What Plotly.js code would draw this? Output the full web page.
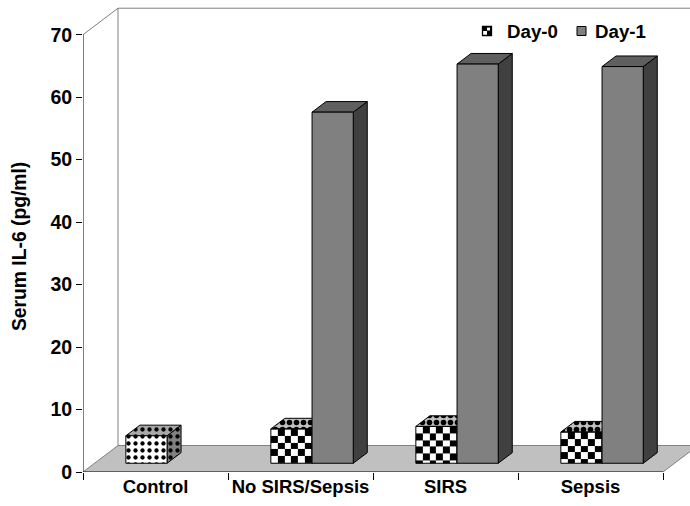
<!DOCTYPE html>
<html><head><meta charset="utf-8">
<script src="https://cdn.plot.ly/plotly-3.0.1.min.js"></script>
<style>html,body{margin:0;padding:0;background:#fff}#chart{width:690px;height:506px}</style>
</head><body><div id="chart"></div>
<script>
// ---- data ----
const categories = ['Control', 'No SIRS/Sepsis', 'SIRS', 'Sepsis'];
const seriesNames = ['Day-0', 'Day-1'];
const day0 = [4.4, 5.5, 5.9, 5.0];
const day1 = [null, 56.2, 63.9, 63.5];
const yTickVals = [0, 10, 20, 30, 40, 50, 60, 70];
const yTitle = 'Serum IL-6 (pg/ml)';
const dottedCategory = 'Control';

// ---- geometry / style ----
const W = 690, H = 506, ML = 83, MR = 0, MT = 6, MB = 34;
const PX_X = 145, PX_Y = 6.247;
const plotW = W - ML - MR, plotH = H - MT - MB;
const xr = [-0.5, -0.5 + plotW / PX_X];
const yr = [0, plotH / PX_Y];
const DX = 35 / PX_X, DY = 26.5 / PX_Y;
const F0 = 0.33, F1 = 0.73;
const BW = 41.2 / PX_X;
const CELL = 6.8;
const FONT = 'Arial, "Liberation Sans", sans-serif';
const yMax = yTickVals[yTickVals.length - 1];
const xMin = -0.5, xMax = categories.length - 0.5;

const traces = [];
function addPoly(xs, ys, fill, pattern) {
  const t = {type: 'scatter', mode: 'lines', x: xs.concat([xs[0]]), y: ys.concat([ys[0]]),
    fill: 'toself', fillcolor: fill, line: {color: '#000', width: 1}, hoverinfo: 'skip', showlegend: false};
  if (pattern) t.fillpattern = pattern;
  traces.push(t);
}
function addOutline(xs, ys) {
  traces.push({type: 'scatter', mode: 'lines', x: xs.concat([xs[0]]), y: ys.concat([ys[0]]),
    line: {color: '#000', width: 1}, hoverinfo: 'skip', showlegend: false});
}
function addChecker(fx0, fx1, fy0, fy1) {
  const cx = CELL / PX_X, cy = CELL / PX_Y;
  const xe = []; for (let x = fx0; x < fx1 - 1e-9; x += cx) xe.push(x); xe.push(fx1);
  const n = Math.ceil((fy1 - fy0) / cy - 1e-9);
  const ye = [fy0]; for (let k = n - 1; k >= 1; k--) ye.push(fy1 - k * cy); ye.push(fy1);
  const z = [];
  for (let r = 0; r < ye.length - 1; r++) {
    const rt = ye.length - 2 - r; const row = [];
    for (let c = 0; c < xe.length - 1; c++) row.push((rt + c) % 2);
    z.push(row);
  }
  traces.push({type: 'heatmap', x: xe, y: ye, z: z, zmin: 0, zmax: 1,
    colorscale: [[0, '#ffffff'], [1, '#000000']], showscale: false, hoverinfo: 'skip'});
}

const dotPat = (bg) => ({shape: '.', bgcolor: bg, fgcolor: '#000', size: 7, solidity: 0.3});
const chkPat = (bg) => ({shape: '.', bgcolor: bg, fgcolor: '#000', size: 7, solidity: 0.5});

const series = [day0, day1];
categories.forEach((cat, i) => {
  series.forEach((vals, s) => {
    const v = vals[i];
    if (v == null) return;
    const x0 = i - BW + s * BW, x1 = x0 + BW;
    const ax = F0 * DX, ay = F0 * DY, bx = F1 * DX, by = F1 * DY;
    let st;
    if (s === 1) st = {front: '#808080', top: '#5f5f5f', side: '#404040'};
    else if (cat === dottedCategory) st = {front: '#ffffff', top: '#a8a8a8', side: '#808080', frontPat: dotPat('#ffffff'), topPat: dotPat('#a8a8a8'), sidePat: dotPat('#808080')};
    else st = {checker: true, top: '#c0c0c0', side: '#808080', topPat: chkPat('#c0c0c0'), sidePat: chkPat('#808080')};
    addPoly([x1 + ax, x1 + bx, x1 + bx, x1 + ax], [ay, by, v + by, v + ay], st.side, st.sidePat);
    addPoly([x0 + ax, x1 + ax, x1 + bx, x0 + bx], [v + ay, v + ay, v + by, v + by], st.top, st.topPat);
    const fxs = [x0 + ax, x1 + ax, x1 + ax, x0 + ax], fys = [ay, ay, v + ay, v + ay];
    if (st.checker) { addChecker(x0 + ax, x1 + ax, ay, v + ay); addOutline(fxs, fys); }
    else addPoly(fxs, fys, st.front, st.frontPat);
  });
});

// ---- frame shapes (floor, walls, axes) ----
const shapes = [
  {type: 'path', xref: 'x', yref: 'y', layer: 'below',
   path: `M ${xMin},0 L ${xMax},0 L ${xMax + DX},${DY} L ${xMin + DX},${DY} Z`,
   fillcolor: '#c0c0c0', line: {color: '#808080', width: 1}},
  {type: 'line', xref: 'x', yref: 'y', layer: 'below', x0: xMin, y0: yMax, x1: xMin + DX, y1: yMax + DY, line: {color: '#808080', width: 1}},
  {type: 'line', xref: 'x', yref: 'y', layer: 'below', x0: xMin + DX, y0: DY, x1: xMin + DX, y1: yMax + DY, line: {color: '#808080', width: 1}},
  {type: 'line', xref: 'x', yref: 'y', layer: 'below', x0: xMin + DX, y0: yMax + DY, x1: xMax + 2 * DX, y1: yMax + DY, line: {color: '#808080', width: 1}},
  {type: 'line', xref: 'x', yref: 'y', x0: xMin, y0: 0, x1: xMin, y1: yMax, line: {color: '#000', width: 1}},
  {type: 'line', xref: 'x', yref: 'y', x0: xMin, y0: 0, x1: xMax, y1: 0, line: {color: '#222', width: 1.2}},
];

// ---- custom legend ----
const px = (p) => (p - ML) / plotW, py = (p) => (H - MB - p) / plotH;
function rect(x0, y0, x1, y1, fill, lw) {
  shapes.push({type: 'rect', xref: 'paper', yref: 'paper', x0: px(x0), x1: px(x1), y0: py(y1), y1: py(y0),
    fillcolor: fill, line: {color: '#000', width: lw}});
}
rect(482.5, 26.5, 491.5, 35.5, '#ffffff', 1);
rect(482.5, 26.5, 491.5, 31, '#000000', 0);
rect(482.5, 31, 487, 35.5, '#ffffff', 0);
rect(487, 31, 491.5, 35.5, '#000000', 0);
rect(487, 27.5, 490, 30.5, '#ffffff', 0);
rect(482.5, 26.5, 491.5, 35.5, 'rgba(0,0,0,0)', 1.3);
rect(577, 26.5, 586, 35.5, '#808080', 1);

const annotations = [
  {text: seriesNames[0], xref: 'paper', yref: 'paper', x: px(505), y: py(31.5), xanchor: 'left', yanchor: 'middle', showarrow: false,
   font: {family: FONT, size: 18.7, color: '#000', weight: 'bold'}},
  {text: seriesNames[1], xref: 'paper', yref: 'paper', x: px(593), y: py(31.5), xanchor: 'left', yanchor: 'middle', showarrow: false,
   font: {family: FONT, size: 18.7, color: '#000', weight: 'bold'}},
  {text: yTitle, xref: 'paper', yref: 'paper', x: px(19), y: py(247), xanchor: 'center', yanchor: 'middle', textangle: -90, showarrow: false,
   font: {family: FONT, size: 19.3, color: '#000', weight: 'bold'}},
];

const layout = {
  width: W, height: H, margin: {l: ML, r: MR, t: MT, b: MB},
  paper_bgcolor: '#ffffff', plot_bgcolor: 'rgba(0,0,0,0)', showlegend: false,
  xaxis: {range: xr, showgrid: false, zeroline: false, showline: false,
    tickmode: 'array', tickvals: categories.map((c, i) => i), ticktext: categories, ticks: '',
    tickfont: {family: FONT, size: 18.5, color: '#000', weight: 'bold'}, ticklabelstandoff: 1,
    minor: {tickmode: 'array', tickvals: categories.map((c, i) => i - 0.5).concat([xMax]), ticks: 'outside', ticklen: 7, tickcolor: '#000', tickwidth: 1, showgrid: false}},
  yaxis: {range: yr, showgrid: false, zeroline: false, showline: false,
    tickmode: 'array', tickvals: yTickVals, ticks: 'outside', ticklen: 6, tickcolor: '#000',
    tickfont: {family: FONT, size: 19.5, color: '#000', weight: 'bold'}},
  shapes: shapes, annotations: annotations,
};
Plotly.newPlot('chart', traces, layout, {staticPlot: true, displayModeBar: false});
</script>
</body></html>
